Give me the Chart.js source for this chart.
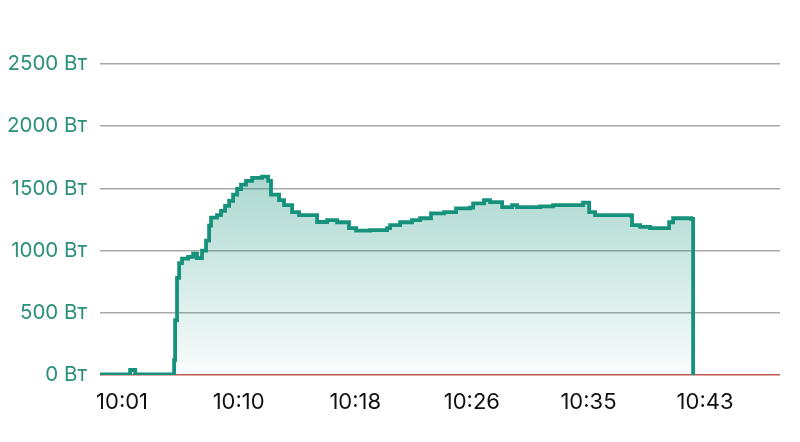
<!DOCTYPE html>
<html>
<head>
<meta charset="utf-8">
<script src="https://cdn.jsdelivr.net/npm/chart.js@4.4.1/dist/chart.umd.min.js"></script>
<style>
  html, body { margin: 0; padding: 0; background: #fff; }
  #wrap { width: 800px; height: 442px; position: relative; }
</style>
</head>
<body>
<div id="wrap"><canvas id="grafico"></canvas></div>
<script>
// minutos depois de 10:00 e potência (W)
const minutos = [-0.19, 1.98, 2.34, 5.15, 5.22, 5.36, 5.51, 5.72, 6.16, 6.52, 6.80, 7.16, 7.45, 7.67, 7.81, 8.24, 8.53, 8.82, 9.11, 9.40, 9.69, 9.97, 10.33, 10.77, 11.49, 11.92, 12.13, 12.71, 13.07, 13.65, 14.15, 15.45, 16.17, 16.89, 17.75, 18.26, 19.27, 20.49, 20.71, 21.43, 22.29, 22.87, 23.66, 24.60, 25.46, 26.47, 26.69, 27.48, 27.91, 28.78, 29.50, 29.86, 31.52, 32.45, 34.61, 35.05, 35.48, 38.07, 38.14, 38.72, 39.44, 40.81, 41.10, 42.40, 42.54, 42.61];
const potencia = [5, 40, 5, 120, 440, 780, 900, 935, 950, 975, 940, 1000, 1080, 1200, 1265, 1285, 1320, 1360, 1400, 1450, 1495, 1530, 1560, 1585, 1595, 1560, 1450, 1405, 1365, 1310, 1285, 1230, 1245, 1228, 1180, 1160, 1165, 1180, 1205, 1228, 1245, 1260, 1300, 1310, 1340, 1345, 1380, 1405, 1390, 1350, 1365, 1350, 1355, 1365, 1385, 1310, 1285, 1280, 1205, 1190, 1180, 1228, 1260, 1255, 0, 0];

const tickPos = [1.4, 9.8, 18.2, 26.6, 35.0, 43.4];
const tickLabels = ['10:01', '10:10', '10:18', '10:26', '10:35', '10:43'];
const yTicks = [0, 500, 1000, 1500, 2000, 2500];

const teal = '#16927c';

const pontos = minutos.map((m, i) => ({ x: m, y: potencia[i] }));

function gradiente(context) {
    const chart = context.chart;
    const area = chart.chartArea;
    if (!area) return 'rgba(22,146,124,0.2)';
    const yTop = chart.scales.y.getPixelForValue(1600);
    const g = chart.ctx.createLinearGradient(0, yTop, 0, area.bottom);
    g.addColorStop(0, 'rgba(22,146,124,0.36)');
    g.addColorStop(1, 'rgba(22,146,124,0.02)');
    return g;
}

const ctx = document.getElementById('grafico').getContext('2d');
new Chart(ctx, {
    type: 'line',
    data: {
        datasets: [{
            data: pontos,
            stepped: true,
            borderColor: teal,
            borderWidth: 3.8,
            pointRadius: 0,
            fill: 'origin',
            backgroundColor: gradiente
        }]
    },
    options: {
        responsive: true,
        maintainAspectRatio: false,
        animation: false,
        layout: { padding: { top: 64, right: 20, left: 0, bottom: 0 } },
        plugins: { legend: { display: false }, tooltip: { enabled: false } },
        scales: {
            x: {
                type: 'linear',
                min: -0.19,
                max: 48.8,
                afterBuildTicks: (scale) => { scale.ticks = tickPos.map(v => ({ value: v })); },
                afterFit: (scale) => { scale.height = 67; },
                grid: { display: false },
                border: { display: false },
                ticks: {
                    color: '#111',
                    font: { family: 'Inter', size: 22 },
                    padding: 6,
                    maxRotation: 0,
                    autoSkip: false,
                    callback: (v, i) => tickLabels[i]
                }
            },
            y: {
                min: 0,
                max: 2500,
                afterBuildTicks: (scale) => { scale.ticks = yTicks.map(v => ({ value: v })); },
                afterFit: (scale) => { scale.width = 100; },
                border: { display: false },
                grid: {
                    drawTicks: false,
                    lineWidth: 1.5,
                    color: (c) => c.tick && c.tick.value === 0 ? '#c0574f' : '#a8a8a8'
                },
                ticks: {
                    color: '#2a8f7b',
                    font: { family: 'Inter', size: 20.5 },
                    padding: 13,
                    callback: (v) => v + ' Вт'
                }
            }
        }
    }
});
</script>
</body>
</html>
